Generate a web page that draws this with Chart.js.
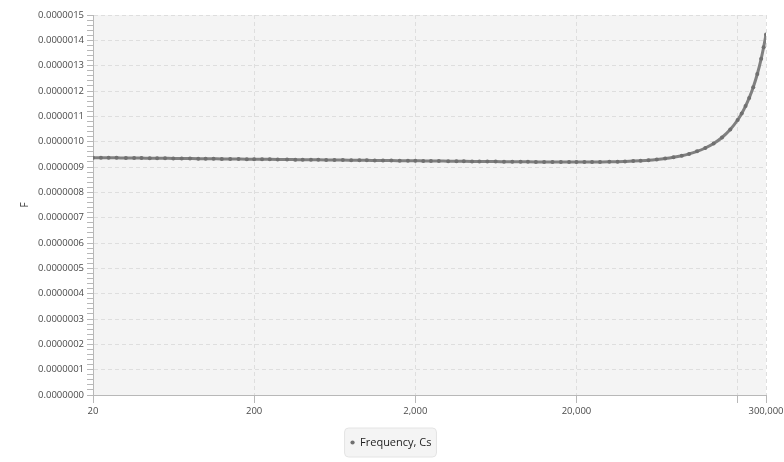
<!DOCTYPE html>
<html>
<head>
<meta charset="utf-8">
<script src="https://cdn.jsdelivr.net/npm/chart.js@4.4.1/dist/chart.umd.min.js"></script>
<style>
  html, body { margin: 0; padding: 0; background: #ffffff; }
  #wrap { width: 784px; height: 462px; }
</style>
</head>
<body>
<div id="wrap"><canvas id="myChart" width="784" height="462"></canvas></div>
<script>
// frequency (Hz) of each sample
const freqs = [
    20, 22.4, 25, 28, 32, 36, 40, 45, 50, 56, 63, 71, 80, 90,
    100, 112, 126, 142, 160, 180,
    200, 224, 250, 280, 320, 360, 400, 450, 500, 560, 630, 710, 800, 900,
    1000, 1120, 1260, 1420, 1600, 1800,
    2000, 2240, 2500, 2800, 3200, 3600, 4000, 4500, 5000, 5600, 6300, 7100, 8000, 9000,
    10000, 11200, 12600, 14200, 16000, 18000,
    20000, 22400, 25000, 28000, 32000, 36000, 40000, 45000, 50000, 56000, 63000, 71000, 80000, 90000,
    100000, 112000, 126000, 142000, 160000, 180000,
    200000, 212000, 224000, 236000, 250000, 265000, 280000, 290000, 300000
];
// F
const capValues = [
    9.370e-7, 9.367e-7, 9.364e-7, 9.361e-7, 9.357e-7, 9.354e-7, 9.351e-7, 9.348e-7, 9.345e-7, 9.342e-7, 9.339e-7, 9.335e-7, 9.332e-7, 9.329e-7,
    9.326e-7, 9.323e-7, 9.320e-7, 9.316e-7, 9.313e-7, 9.310e-7,
    9.307e-7, 9.304e-7, 9.301e-7, 9.298e-7, 9.294e-7, 9.291e-7, 9.288e-7, 9.285e-7, 9.282e-7, 9.279e-7, 9.276e-7, 9.272e-7, 9.269e-7, 9.266e-7,
    9.263e-7, 9.260e-7, 9.257e-7, 9.253e-7, 9.250e-7, 9.247e-7,
    9.244e-7, 9.241e-7, 9.238e-7, 9.235e-7, 9.231e-7, 9.228e-7, 9.225e-7, 9.222e-7, 9.220e-7, 9.217e-7, 9.214e-7, 9.211e-7, 9.208e-7, 9.206e-7,
    9.204e-7, 9.202e-7, 9.200e-7, 9.197e-7, 9.196e-7, 9.196e-7,
    9.196e-7, 9.196e-7, 9.198e-7, 9.201e-7, 9.205e-7, 9.211e-7, 9.221e-7, 9.234e-7, 9.249e-7, 9.269e-7, 9.298e-7, 9.334e-7, 9.383e-7, 9.446e-7,
    9.518e-7, 9.617e-7, 9.750e-7, 9.927e-7, 1.0165e-6, 1.0479e-6,
    1.0855e-6, 1.1114e-6, 1.1404e-6, 1.1727e-6, 1.2149e-6, 1.2670e-6, 1.3271e-6, 1.3725e-6, 1.4230e-6
];
const xTicks = [20, 200, 2000, 20000, 200000, 300000];
const xHidden = [200000];
const yMin = 0;
const yMax = 0.0000015;
const yMajor = 0.0000001;
const yMinor = 0.00000002;

const FONT = "'Open Sans', 'Noto Sans', sans-serif";
const gridCol = '#dedede';
const axisCol = '#b8b8b8';

// light grey plot area + rounded legend box
const backdrop = {
    id: 'backdrop',
    beforeDraw(chart) {
        const ctx = chart.ctx;
        const a = chart.chartArea;
        ctx.save();
        ctx.fillStyle = '#f4f4f4';
        ctx.fillRect(a.left, a.top, a.right - a.left, a.bottom - a.top);
        const hb = chart.legend.legendHitBoxes;
        if (hb && hb.length) {
            const b = hb[0];
            ctx.beginPath();
            ctx.roundRect(b.left - 6, b.top - 9, b.width + 11, b.height + 18, 4);
            ctx.fillStyle = '#f4f4f4';
            ctx.fill();
            ctx.strokeStyle = '#e4e4e4';
            ctx.lineWidth = 1;
            ctx.stroke();
        }
        ctx.restore();
    }
};

const data = {
    datasets: [{
        label: 'Frequency, Cs',
        data: freqs.map((f, i) => ({x: f, y: capValues[i]})),
        borderColor: 'rgb(128,128,128)',
        backgroundColor: 'rgb(118,118,118)',
        pointBackgroundColor: 'rgb(112,112,112)',
        pointBorderWidth: 0,
        pointRadius: 2,
        borderWidth: 3,
        cubicInterpolationMode: 'monotone'
    }]
};

const config = {
    type: 'line',
    data: data,
    plugins: [backdrop],
    options: {
        responsive: false,
        animation: false,
        events: [],
        layout: { padding: { left: 16, right: 18, top: 15, bottom: 4 } },
        plugins: {
            tooltip: { enabled: false },
            legend: {
                position: 'bottom',
                labels: {
                    usePointStyle: true,
                    pointStyle: 'circle',
                    boxWidth: 4,
                    boxHeight: 3,
                    padding: 10,
                    color: '#1e1e1e',
                    font: { family: FONT, size: 11 }
                }
            }
        },
        scales: {
            x: {
                type: 'logarithmic',
                min: 20,
                max: 300000,
                afterBuildTicks: (s) => { s.ticks = xTicks.map(v => ({value: v})); },
                afterFit: (s) => { s.height = 32; s.paddingRight = 0; s.paddingLeft = 0; },
                ticks: {
                    autoSkip: false,
                    maxRotation: 0,
                    padding: 3,
                    color: '#4a4a4a',
                    font: { family: FONT, size: 9.5 },
                    callback: (v) => xHidden.includes(v) ? '' : Number(v).toLocaleString('en-US')
                },
                grid: {
                    color: gridCol,
                    tickColor: axisCol,
                    tickLength: 8
                },
                border: { color: axisCol, dash: [4, 3] }
            },
            y: {
                min: yMin,
                max: yMax,
                afterFit: (s) => { s.width = 77; },
                ticks: {
                    stepSize: yMinor,
                    autoSkip: false,
                    padding: 3,
                    color: '#4a4a4a',
                    font: { family: FONT, size: 9.5 },
                    callback: (v, i) => (i % Math.round(yMajor / yMinor) === 0) ? Number(v).toFixed(7) : ''
                },
                grid: {
                    color: (c) => (c.index % Math.round(yMajor / yMinor) === 0) ? gridCol : 'rgba(0,0,0,0)',
                    tickColor: axisCol,
                    tickLength: 6
                },
                border: { color: axisCol, dash: [4, 3] },
                title: {
                    display: true,
                    text: 'F',
                    color: '#333333',
                    font: { family: FONT, size: 10 },
                    padding: { top: 3, bottom: 0 }
                }
            }
        }
    }
};

const myChart = new Chart(document.getElementById('myChart'), config);
</script>
</body>
</html>
